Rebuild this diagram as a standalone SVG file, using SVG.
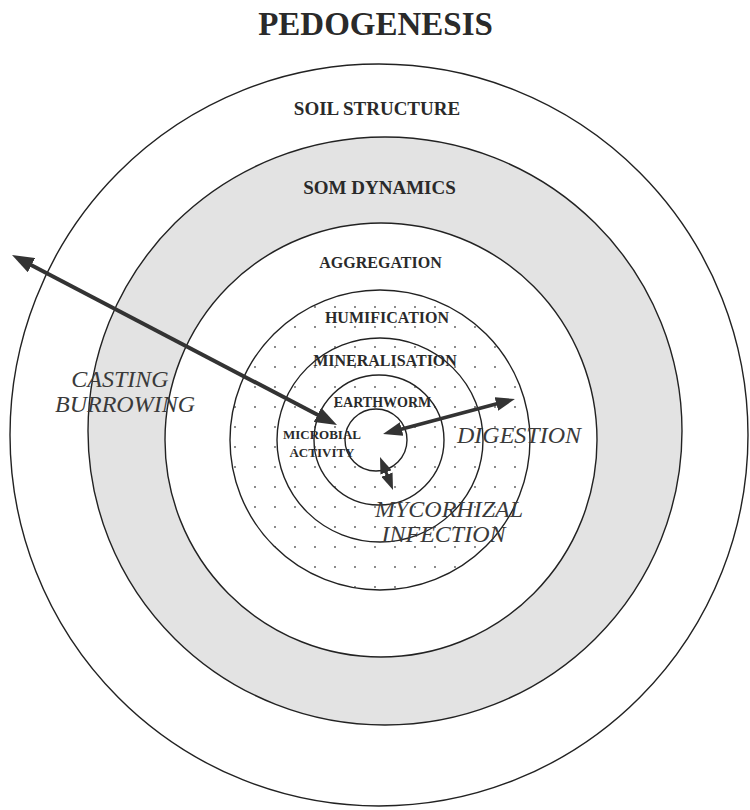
<svg xmlns="http://www.w3.org/2000/svg" width="750" height="810" viewBox="0 0 750 810">
<style>
.ring{stroke:#222;stroke-width:1.4}
.lbl{font-family:"Liberation Serif","Times New Roman",serif;font-weight:bold;fill:#2a2a2a;text-anchor:middle}
.ital{font-family:"Liberation Serif","Times New Roman",serif;font-style:italic;fill:#3a3a3a;text-anchor:middle;font-size:24px}
.arr{stroke:#333;fill:none;stroke-linecap:butt}
</style>
<defs>
<pattern id="dots" patternUnits="userSpaceOnUse" x="5" y="-3" width="20" height="20">
<rect width="20" height="20" fill="#ffffff"/>
<circle cx="10" cy="10" r="0.9" fill="#555"/>
</pattern>
<marker id="head" markerUnits="strokeWidth" markerWidth="5.5" markerHeight="4" refX="3.5" refY="2" orient="auto-start-reverse" viewBox="0 0 5.5 4">
<path d="M0,0 L5.5,2 L0,4 z" fill="#333"/>
</marker>
</defs>
<rect width="750" height="810" fill="#ffffff"/>
<text class="lbl" x="375.5" y="35" font-size="33">PEDOGENESIS</text>

<g id="soil-structure">
<ellipse class="ring" cx="379" cy="435" rx="369" ry="371" fill="#ffffff"/>
<text class="lbl" x="377" y="115" font-size="19">SOIL STRUCTURE</text>
</g>
<g id="som-dynamics">
<ellipse class="ring" cx="385" cy="431" rx="297" ry="294" fill="#e3e3e3"/>
<text class="lbl" x="379.5" y="194" font-size="19">SOM DYNAMICS</text>
</g>
<g id="aggregation">
<ellipse class="ring" cx="381" cy="440" rx="216" ry="217" fill="#ffffff"/>
<text class="lbl" x="380.5" y="268" font-size="16">AGGREGATION</text>
</g>
<g id="humification">
<ellipse class="ring" cx="380" cy="440" rx="150" ry="150" fill="url(#dots)"/>
<text class="lbl" x="387" y="323" font-size="16">HUMIFICATION</text>
</g>
<g id="mineralisation">
<ellipse class="ring" cx="380" cy="440" rx="103" ry="102" fill="none"/>
<text class="lbl" x="385" y="366" font-size="16">MINERALISATION</text>
</g>
<g id="earthworm">
<ellipse class="ring" cx="379" cy="440" rx="65" ry="65" fill="none"/>
<text class="lbl" x="382.5" y="407" font-size="14">EARTHWORM</text>
</g>
<g id="microbial-activity">
<circle class="ring" cx="376" cy="440" r="31" fill="#ffffff"/>
<text class="lbl" x="322" y="439" font-size="13">MICROBIAL</text>
<text class="lbl" x="322" y="457" font-size="13">ACTIVITY</text>
</g>

<g id="connectors">
<line class="arr" x1="19.1" y1="258.7" x2="329.9" y2="421.3" stroke-width="4" marker-start="url(#head)" marker-end="url(#head)"/>
<line class="arr" x1="389.8" y1="432.2" x2="508.2" y2="400.8" stroke-width="3.5" marker-start="url(#head)" marker-end="url(#head)"/>
<line class="arr" x1="382.2" y1="462.6" x2="390.8" y2="484.4" stroke-width="3" marker-start="url(#head)" marker-end="url(#head)"/>
</g>

<g id="labels">
<text class="ital" x="120" y="387">CASTING</text>
<text class="ital" x="125" y="412">BURROWING</text>
<text class="ital" x="519" y="443">DIGESTION</text>
<text class="ital" x="449" y="517">MYCORHIZAL</text>
<text class="ital" x="443.5" y="542">INFECTION</text>
</g>
</svg>
